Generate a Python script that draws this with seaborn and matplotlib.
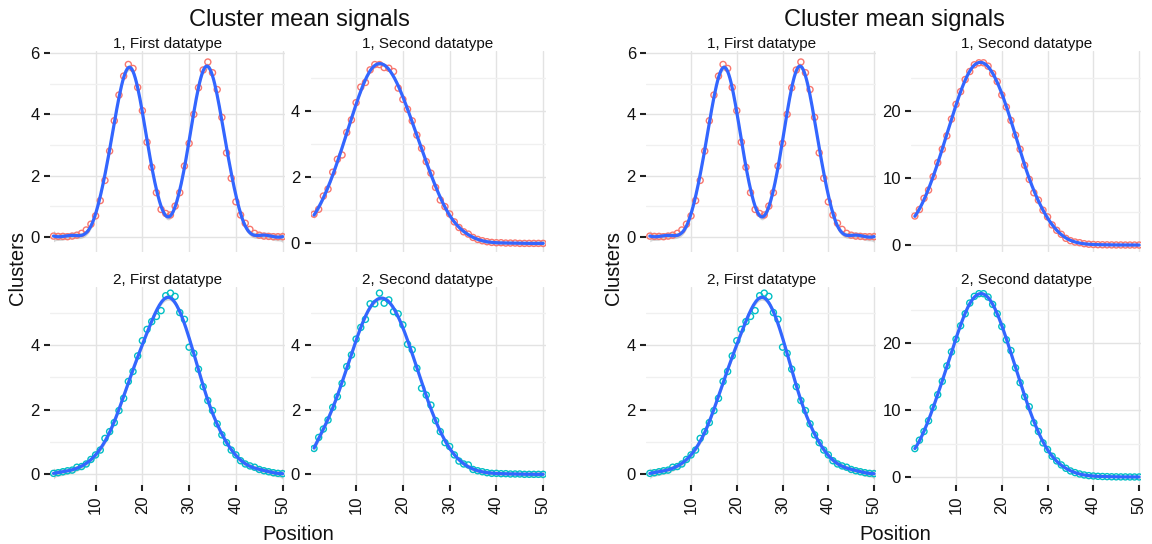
import numpy as np
import pandas as pd
import matplotlib
matplotlib.use("Agg")
import matplotlib.pyplot as plt
from matplotlib.ticker import MultipleLocator
import seaborn as sns

# ---------------- data ----------------
positions = list(range(1, 51))

cluster1_first = [0.02, 0.01, 0.01, 0.0, 0.02, 0.05, 0.11, 0.22, 0.41, 0.68,
                  1.18, 1.84, 2.80, 3.79, 4.63, 5.25, 5.63, 5.50, 4.88, 4.12,
                  3.09, 2.27, 1.44, 0.89, 0.76, 0.71, 1.00, 1.44, 2.31, 3.05,
                  4.00, 4.87, 5.45, 5.71, 5.36, 4.81, 3.90, 2.74, 1.91, 1.14,
                  0.71, 0.44, 0.24, 0.11, 0.05, 0.02, 0.01, 0.0, 0.0, 0.0]

cluster1_second = [0.88, 1.03, 1.43, 1.64, 2.15, 2.54, 2.67, 3.35, 3.73, 4.25,
                   4.72, 4.86, 5.24, 5.40, 5.40, 5.31, 5.29, 5.19, 4.69, 4.35,
                   4.05, 3.70, 3.27, 2.87, 2.47, 2.12, 1.69, 1.31, 1.11, 0.89,
                   0.65, 0.48, 0.35, 0.28, 0.18, 0.12, 0.08, 0.05, 0.03, 0.02,
                   0.02, 0.01, 0.01, 0.01, 0.0, 0.0, 0.0, 0.0, 0.0, 0.0]

cluster2_first = [0.03, 0.05, 0.08, 0.11, 0.13, 0.22, 0.24, 0.32, 0.46, 0.60,
                  0.75, 1.11, 1.32, 1.60, 1.97, 2.35, 2.87, 3.18, 3.66, 4.13,
                  4.48, 4.72, 4.88, 5.06, 5.52, 5.60, 5.50, 5.00, 4.79, 3.93,
                  3.74, 3.25, 2.71, 2.28, 1.97, 1.56, 1.22, 0.98, 0.75, 0.60,
                  0.42, 0.32, 0.26, 0.22, 0.15, 0.11, 0.08, 0.05, 0.03, 0.02]

cluster2_second = [0.80, 1.14, 1.40, 1.68, 2.07, 2.40, 2.81, 3.33, 3.69, 4.18,
                   4.54, 4.79, 5.27, 5.27, 5.60, 5.29, 5.39, 5.03, 4.96, 4.62,
                   4.02, 3.85, 3.28, 2.66, 2.45, 2.14, 1.66, 1.32, 0.98, 0.86,
                   0.60, 0.41, 0.32, 0.29, 0.15, 0.11, 0.08, 0.05, 0.03, 0.03,
                   0.02, 0.02, 0.01, 0.01, 0.01, 0.0, 0.0, 0.0, 0.0, 0.0]

cluster1_second_scaled = [4.33, 5.3, 6.97, 8.2, 10.2, 12.3, 14.3, 16.3, 18.8, 21.0,
                          22.9, 24.7, 25.9, 26.9, 27.2, 27.2, 26.7, 25.6, 24.4, 22.4,
                          20.6, 18.6, 16.4, 14.3, 11.9, 9.8, 7.8, 6.7, 5.2, 4.2,
                          3.0, 2.2, 1.6, 1.0, 0.65, 0.45, 0.35, 0.2, 0.12, 0.08,
                          0.05, 0.04, 0.03, 0.02, 0.01, 0.01, 0.0, 0.0, 0.0, 0.0]

cluster2_second_scaled = [4.24, 5.5, 6.8, 8.4, 10.4, 12.3, 14.3, 16.6, 18.7, 20.6,
                          22.6, 24.4, 26.0, 27.0, 27.4, 27.4, 26.9, 25.8, 24.4, 22.5,
                          20.5, 18.9, 16.3, 14.1, 12.0, 10.5, 8.1, 6.8, 5.1, 4.1,
                          3.1, 2.4, 1.8, 1.3, 0.9, 0.65, 0.45, 0.3, 0.2, 0.15,
                          0.1, 0.07, 0.05, 0.03, 0.02, 0.01, 0.01, 0.0, 0.0, 0.0]

title_text = "Cluster mean signals"
panel_titles = ["1, First datatype", "1, Second datatype",
                "2, First datatype", "2, Second datatype"]
x_label = "Position"
y_label = "Clusters"
x_ticks = [10, 20, 30, 40, 50]

cluster_colors = {1: "#F8766D", 2: "#00BFC4"}
smooth_color = "#3366FF"


# ---------------- smoother: cubic regression spline ----------------
def bspline_basis(x, lo, hi, n_basis=10, degree=3):
    x = np.clip(np.asarray(x, float), lo, hi - 1e-9)
    n_inner = n_basis - degree - 1
    inner = np.linspace(lo, hi, n_inner + 2)
    t = np.concatenate([[lo] * degree, inner, [hi] * degree])
    B = np.zeros((len(x), len(t) - 1))
    for i in range(len(t) - 1):
        B[:, i] = (t[i] <= x) & (x < t[i + 1])
    for d in range(1, degree + 1):
        Bn = np.zeros((len(x), len(t) - 1 - d))
        for i in range(len(t) - 1 - d):
            a = t[i + d] - t[i]
            b = t[i + d + 1] - t[i + 1]
            term = np.zeros(len(x))
            if a > 0:
                term += (x - t[i]) / a * B[:, i]
            if b > 0:
                term += (t[i + d + 1] - x) / b * B[:, i + 1]
            Bn[:, i] = term
        B = Bn
    return B


def spline_smooth(x, y, xs, n_basis=15, lam=0.01):
    x = np.asarray(x, float)
    y = np.asarray(y, float)
    lo, hi = x.min(), x.max()
    B = bspline_basis(x, lo, hi, n_basis)
    D = np.diff(np.eye(n_basis), 2, axis=0)
    P = D.T @ D
    A = B.T @ B + lam * P
    Ainv = np.linalg.inv(A)
    coef = Ainv @ B.T @ y
    H_ = B @ Ainv @ B.T
    resid = y - B @ coef
    dof = len(y) - np.trace(H_)
    sigma2 = np.sum(resid ** 2) / dof
    Bs = bspline_basis(xs, lo, hi, n_basis)
    fit = Bs @ coef
    cov = sigma2 * Ainv @ (B.T @ B) @ Ainv
    se = np.sqrt(np.einsum("ij,jk,ik->i", Bs, cov, Bs))
    return fit, fit - 2.0 * se, fit + 2.0 * se


W, H = 1152, 544
sns.set_theme(style="white")
plt.rcParams["font.family"] = ["Liberation Sans", "DejaVu Sans"]

fig = plt.figure(figsize=(W / 100, H / 100), dpi=100)


def add_ax(left, top, width, height):
    return fig.add_axes([left / W, 1 - (top + height) / H, width / W, height / H])


figures = [
    dict(panels=[cluster1_first, cluster1_second, cluster2_first, cluster2_second],
         ylims=[(-0.5, 6.07), (-0.26, 5.81), (-0.33, 5.79), (-0.33, 5.79)],
         cols=[(50.0, 235.0), (310.5, 235.0)], title_x=299, ylab_x=17.5, xlab_x=298),
    dict(panels=[cluster1_first, cluster1_second_scaled, cluster2_first, cluster2_second_scaled],
         ylims=[(-0.5, 6.07), (-1.04, 28.96), (-0.33, 5.79), (-1.2, 28.4)],
         cols=[(646.4, 230.0), (911.4, 230.0)], title_x=894, ylab_x=614, xlab_x=895),
]
rows = [(51.0, 201.0), (287.0, 198.0)]

xs = np.linspace(1, 50, 200)

for f in figures:
    for k, vals in enumerate(f["panels"]):
        r, c = divmod(k, 2)
        cluster = r + 1
        left, width = f["cols"][c]
        top, height = rows[r]
        ax = add_ax(left, top, width, height)

        df = pd.DataFrame({"Position": positions, "value": vals})
        fit, lo, hi = spline_smooth(positions, vals, xs)

        ax.fill_between(xs, lo, hi, color="#999999", alpha=0.4, linewidth=0, zorder=2)
        sns.scatterplot(data=df, x="Position", y="value", ax=ax, s=19,
                        color=cluster_colors[cluster], linewidth=1.0, zorder=3,
                        legend=False)
        coll = ax.collections[-1]
        coll.set_facecolor("none")
        coll.set_edgecolor(cluster_colors[cluster])
        sns.lineplot(x=xs, y=fit, ax=ax, color=smooth_color, linewidth=2.3, zorder=4)

        ax.set_ylim(*f["ylims"][k])
        ax.set_xlim(0.25, 50.5)

        if f["ylims"][k][1] > 10:
            ax.yaxis.set_major_locator(MultipleLocator(10))
            ax.yaxis.set_minor_locator(MultipleLocator(5))
        else:
            ax.yaxis.set_major_locator(MultipleLocator(2))
            ax.yaxis.set_minor_locator(MultipleLocator(1))
        ax.set_xticks(x_ticks)

        ax.grid(True, which="major", color="#E3E3E3", linewidth=1.0, zorder=0)
        ax.grid(True, which="minor", axis="y", color="#F0F0F0", linewidth=1.0, zorder=0)
        ax.set_axisbelow(True)
        for s in ax.spines.values():
            s.set_visible(False)

        ax.tick_params(axis="y", which="major", left=True, length=4.3, width=1.5,
                       color="#222222", pad=3.2, labelsize=12, labelcolor="#111111")
        ax.tick_params(axis="y", which="minor", left=False)
        if r == 1:
            ax.tick_params(axis="x", which="major", bottom=True, length=4.3, width=1.5,
                           color="#222222", pad=3.0, labelsize=12, labelcolor="#111111",
                           labelrotation=90)
        else:
            ax.tick_params(axis="x", which="major", bottom=False, labelbottom=False)
        ax.set_xlabel("")
        ax.set_ylabel("")
        ax.set_title(panel_titles[k], fontsize=11, pad=2.0, color="#111111")

    fig.text(f["title_x"] / W, 1 - 26 / H, title_text, ha="center", va="baseline",
             fontsize=17, color="#111111")
    fig.text(f["ylab_x"] / W, 1 - 268 / H, y_label, ha="center", va="center",
             rotation=90, fontsize=14.5, color="#111111")
    fig.text(f["xlab_x"] / W, 1 - 540 / H, x_label, ha="center", va="baseline",
             fontsize=14.5, color="#111111")

fig.savefig("out.png", dpi=100)
